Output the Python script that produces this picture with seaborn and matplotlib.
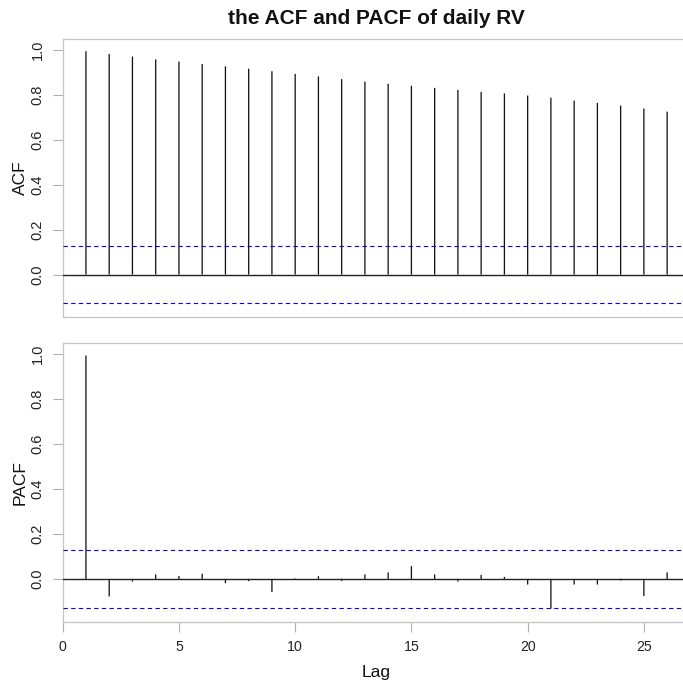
import numpy as np
import pandas as pd
import matplotlib
matplotlib.use("Agg")
import matplotlib.pyplot as plt
import seaborn as sns

# Sample autocorrelations of daily realized volatility, lags 1..26
lags = list(range(1, 27))
acf_values = [0.994, 0.982, 0.970, 0.958, 0.948, 0.937, 0.927, 0.916, 0.905,
              0.893, 0.882, 0.870, 0.859, 0.849, 0.840, 0.831, 0.822, 0.813,
              0.806, 0.797, 0.787, 0.774, 0.764, 0.752, 0.739, 0.725]
pacf_values = [0.994, -0.078, -0.012, 0.020, 0.013, 0.023, -0.019, -0.010,
               -0.058, 0.002, 0.012, -0.009, 0.020, 0.029, 0.057, 0.020,
               -0.012, 0.018, 0.009, -0.025, -0.132, -0.025, -0.025, -0.007,
               -0.076, 0.029]
conf_limit = 0.128  # 95% band, 1.96 / sqrt(n)
y_ticks = [0.0, 0.2, 0.4, 0.6, 0.8, 1.0]
x_ticks = [0, 5, 10, 15, 20, 25]
title = "the ACF and PACF of daily RV"

sns.set_theme(style="white")
plt.rcParams["font.family"] = ["Liberation Sans", "DejaVu Sans"]

frame_gray = "#c4c4c4"
tick_gray = "#b0b0b0"

fig = plt.figure(figsize=(6.83, 6.81), dpi=100)
left, width, height = 0.0918, 0.919, 0.4085
ax_acf = fig.add_axes([left, 0.5341, width, height])
ax_pacf = fig.add_axes([left, 0.0872, width, height])

df = pd.DataFrame({"lag": lags, "ACF": acf_values, "PACF": pacf_values})


def draw_panel(ax, column):
    sns.barplot(data=df, x="lag", y=column, native_scale=True, width=0.055,
                color="#111111", saturation=1, edgecolor="none", linewidth=0,
                ax=ax)
    for p in ax.patches:
        p.set_snap(False)
        p.set_antialiased(True)
    ax.axhline(0, color="#222222", lw=1.0, zorder=3)
    for s in (conf_limit, -conf_limit):
        ax.axhline(s, color="#0000ff", lw=0.8, ls=(0, (3.9, 3.0)), zorder=3)
    ax.set_ylim(-0.19, 1.048)
    ax.set_xlim(0, 27)
    ax.set_yticks(y_ticks)
    ax.set_yticklabels([f"{t:.1f}" for t in y_ticks], rotation=90, va="center")
    ax.tick_params(axis="y", which="major", left=True, length=7, width=0.8,
                   color=tick_gray, labelsize=10.5, pad=6, labelcolor="#222222")
    for sp in ax.spines.values():
        sp.set_color(frame_gray)
        sp.set_linewidth(0.9)
    ax.set_ylabel(column, fontsize=12.5, color="#111111")
    ax.yaxis.set_label_coords(-0.056, 0.5)
    ax.set_xlabel("")


draw_panel(ax_acf, "ACF")
draw_panel(ax_pacf, "PACF")

ax_acf.set_xticks([])
ax_pacf.set_xticks(x_ticks)
ax_pacf.set_xticklabels([str(t) for t in x_ticks])
ax_pacf.tick_params(axis="x", which="major", bottom=True, length=7, width=0.8,
                    color=tick_gray, labelsize=10.2, pad=6, labelcolor="#222222")
ax_pacf.set_xlabel("Lag", fontsize=12.5, color="#111111")
ax_pacf.xaxis.set_label_coords(0.5, -0.155)

fig.text((left + width / 2), 1 - 18 / 681, title, ha="center", va="center",
         fontsize=15, fontweight="bold", color="#111111")

fig.savefig("out.png", dpi=100)
